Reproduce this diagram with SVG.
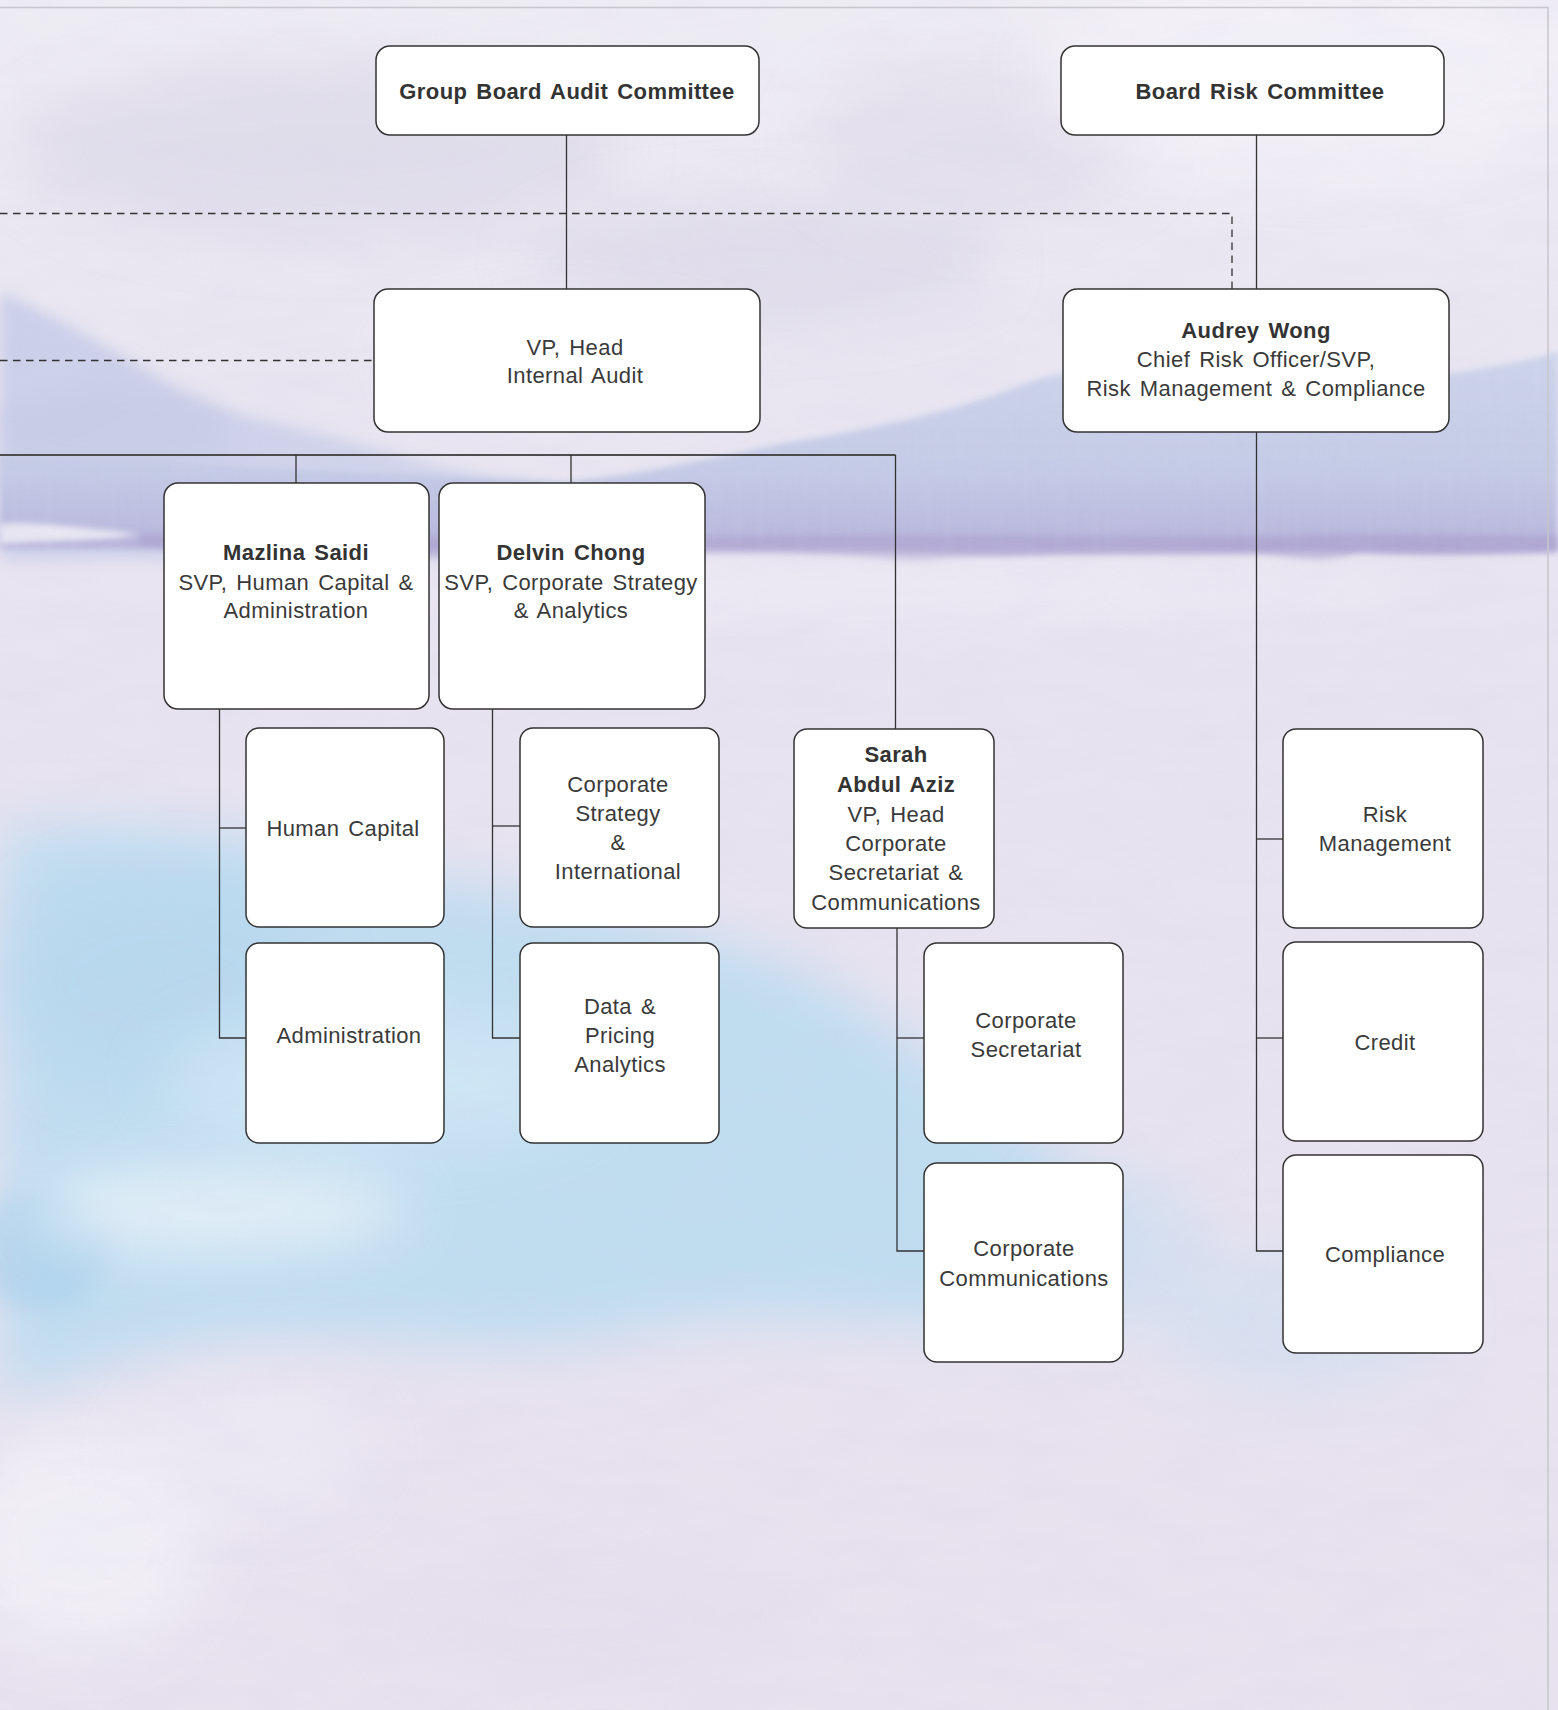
<svg xmlns="http://www.w3.org/2000/svg" width="1558" height="1710" viewBox="0 0 1558 1710">
<defs>
<style>
.box{fill:#ffffff;stroke:#333333;stroke-width:1.5}
.t{font-family:"Liberation Sans",Arial,Helvetica,sans-serif;font-size:22px;fill:#3a3a3a;text-anchor:middle;letter-spacing:0.4px;word-spacing:2.5px}
.b{font-weight:bold;fill:#333333}
.ln{stroke:#333333;stroke-width:1.3;fill:none}
.hl{stroke:#4d4d4d;stroke-width:1.8;fill:none}
.dash{stroke:#333333;stroke-width:1.3;fill:none;stroke-dasharray:7.5 5.5}
.frame{stroke:#c6c6cc;stroke-width:1.5;fill:none}
</style>
<linearGradient id="bgGrad" x1="0" y1="0" x2="0" y2="1">
<stop offset="0" stop-color="#eeecf3"/>
<stop offset="0.2" stop-color="#e9e6f1"/>
<stop offset="0.4" stop-color="#e8e3f0"/>
<stop offset="1" stop-color="#e8e2ef"/>
</linearGradient>
<linearGradient id="bandGrad" x1="0" y1="0" x2="0" y2="1">
<stop offset="0" stop-color="#cdd5eb"/>
<stop offset="0.6" stop-color="#c4cbe6"/>
<stop offset="0.88" stop-color="#bab9de"/>
<stop offset="1" stop-color="#b2aad6"/>
</linearGradient>
<linearGradient id="mtnGrad" x1="0" y1="0" x2="1" y2="1">
<stop offset="0" stop-color="#cbcfe8"/>
<stop offset="1" stop-color="#d3d6eb"/>
</linearGradient>
<filter id="blurL" filterUnits="userSpaceOnUse" x="-300" y="-300" width="2158" height="2310"><feGaussianBlur stdDeviation="28"/></filter>
<filter id="blurM" filterUnits="userSpaceOnUse" x="-300" y="-300" width="2158" height="2310"><feGaussianBlur stdDeviation="12"/></filter>
<filter id="blurS" filterUnits="userSpaceOnUse" x="-300" y="-300" width="2158" height="2310"><feGaussianBlur stdDeviation="3"/></filter>
<filter id="blurT" filterUnits="userSpaceOnUse" x="-300" y="-300" width="2158" height="2310"><feGaussianBlur stdDeviation="7"/></filter>
<filter id="tex" x="0" y="0" width="100%" height="100%">
<feTurbulence type="fractalNoise" baseFrequency="0.012 0.035" numOctaves="4" seed="7" result="n"/>
<feColorMatrix in="n" type="matrix" values="0 0 0 0 0.62  0 0 0 0 0.58  0 0 0 0 0.8  0.55 0 0 0 -0.2"/>
</filter>
<filter id="streak" x="0" y="0" width="100%" height="100%">
<feTurbulence type="fractalNoise" baseFrequency="0.09 0.006" numOctaves="3" seed="3" result="n"/>
<feColorMatrix in="n" type="matrix" values="0 0 0 0 0.6  0 0 0 0 0.62  0 0 0 0 0.82  0.8 0 0 0 -0.3"/>
</filter>
<clipPath id="bandClip">
<path d="M0,455 L560,482 C640,476 710,458 790,442 C880,428 960,410 1030,382 C1070,368 1120,370 1200,372 L1450,374 C1500,366 1530,360 1558,352 L1558,552 L0,550 Z"/>
</clipPath>
</defs>

<g id="background">
<rect x="0" y="0" width="1558" height="1710" fill="url(#bgGrad)"/>
<ellipse cx="320" cy="150" rx="300" ry="90" fill="#d8d4e6" opacity="0.55" filter="url(#blurL)"/>
<ellipse cx="760" cy="260" rx="230" ry="60" fill="#d6d2e5" opacity="0.5" filter="url(#blurL)"/>
<ellipse cx="980" cy="140" rx="170" ry="80" fill="#dcd8e8" opacity="0.5" filter="url(#blurL)"/>
<ellipse cx="1320" cy="70" rx="280" ry="110" fill="#f4f2f8" opacity="0.8" filter="url(#blurL)"/>
<ellipse cx="560" cy="360" rx="160" ry="50" fill="#f1eff6" opacity="0.7" filter="url(#blurL)"/>
<!-- left mountain -->
<path d="M0,292 C60,318 120,352 180,392 C240,418 300,428 360,444 C420,462 480,478 560,488 L560,560 L0,560 Z" fill="url(#mtnGrad)" filter="url(#blurT)"/>
<ellipse cx="110" cy="430" rx="120" ry="45" fill="#c3c7e2" opacity="0.45" filter="url(#blurM)"/>
<!-- right band -->
<path d="M0,455 L560,482 C640,476 710,458 790,442 C880,428 960,410 1030,382 C1070,368 1120,370 1200,372 L1450,374 C1500,366 1530,360 1558,352 L1558,552 C1400,556 1200,548 1000,556 C800,550 600,548 400,550 L0,548 Z" fill="url(#bandGrad)" filter="url(#blurS)"/>
<rect x="0" y="350" width="1558" height="210" filter="url(#streak)" clip-path="url(#bandClip)" opacity="0.45"/>
<!-- purple edge of band -->
<path d="M140,534 C300,530 500,540 700,537 C900,532 1100,540 1300,535 C1420,533 1500,536 1558,535 L1558,550 C1480,554 1420,558 1360,551 C1320,566 1300,558 1260,554 C1150,558 1050,551 950,558 C900,566 870,555 820,555 C700,551 600,558 480,555 C420,562 380,552 300,551 C220,554 180,548 140,546 Z" fill="#a89ecb" opacity="0.5" filter="url(#blurS)"/>
<path d="M0,524 C40,522 80,528 140,534 C110,541 60,540 0,544 Z" fill="#f2f0f7" opacity="0.85" filter="url(#blurS)"/>
<ellipse cx="900" cy="590" rx="500" ry="30" fill="#efebf5" opacity="0.6" filter="url(#blurM)"/>
<!-- blue wash lower left -->
<path d="M0,830 C150,815 300,845 420,875 C560,900 700,925 820,980 C900,1030 990,1100 1090,1180 C1140,1240 1110,1310 1000,1320 C860,1330 760,1300 620,1335 C480,1365 360,1320 200,1345 C120,1355 50,1385 0,1405 Z" fill="#c0ddf0" filter="url(#blurL)"/>
<ellipse cx="160" cy="980" rx="160" ry="110" fill="#b4d6ee" opacity="0.6" filter="url(#blurL)"/>
<ellipse cx="40" cy="1250" rx="70" ry="60" fill="#a9d0ec" opacity="0.6" filter="url(#blurM)"/>
<ellipse cx="380" cy="1080" rx="220" ry="70" fill="#d6ebf7" opacity="0.6" filter="url(#blurL)"/>
<ellipse cx="220" cy="1210" rx="190" ry="45" fill="#eef5fa" opacity="0.7" filter="url(#blurL)"/>
<ellipse cx="1300" cy="1320" rx="140" ry="70" fill="#c7def1" opacity="0.5" filter="url(#blurL)"/>
<ellipse cx="1120" cy="1250" rx="90" ry="80" fill="#c3ddf1" opacity="0.5" filter="url(#blurL)"/>
<!-- lower lavender and white patches -->
<ellipse cx="80" cy="1540" rx="130" ry="110" fill="#f3f1f7" opacity="0.8" filter="url(#blurL)"/>
<ellipse cx="250" cy="1450" rx="120" ry="70" fill="#eeebf5" opacity="0.7" filter="url(#blurL)"/>
<ellipse cx="600" cy="1620" rx="200" ry="60" fill="#e3dcec" opacity="0.5" filter="url(#blurL)"/>
<rect x="0" y="0" width="1558" height="1710" filter="url(#tex)" opacity="0.35"/>
<path class="frame" d="M0,7.5 L1548,7.5 L1548,1710"/>
</g>

<g id="connectors">
<path class="dash" d="M0,213.5 L1232,213.5 L1232,289"/>
<path class="dash" d="M0,360.5 L374,360.5"/>
<path class="ln" d="M566.5,135 L566.5,289"/>
<path class="ln" d="M1256.5,135 L1256.5,289"/>
<path class="hl" d="M0,455 L895.5,455"/>
<path class="ln" d="M895.5,455 L895.5,729"/>
<path class="ln" d="M296,455 L296,483"/>
<path class="ln" d="M571,455 L571,483"/>
<path class="ln" d="M219.5,709 L219.5,1038 L246,1038"/>
<path class="ln" d="M219.5,828 L246,828"/>
<path class="ln" d="M492.5,709 L492.5,1038 L520,1038"/>
<path class="ln" d="M492.5,826 L520,826"/>
<path class="ln" d="M897,928 L897,1251 L924,1251"/>
<path class="ln" d="M897,1038 L924,1038"/>
<path class="ln" d="M1256.5,432 L1256.5,1251 L1283,1251"/>
<path class="ln" d="M1256.5,839 L1283,839"/>
<path class="ln" d="M1256.5,1038 L1283,1038"/>
</g>

<g id="node-group-board-audit-committee">
<rect class="box" x="376" y="46" width="383" height="89" rx="14"/>
<text class="t b" x="567" y="99">Group Board Audit Committee</text>
</g>
<g id="node-board-risk-committee">
<rect class="box" x="1061" y="46" width="383" height="89" rx="14"/>
<text class="t b" x="1260" y="99">Board Risk Committee</text>
</g>
<g id="node-vp-head-internal-audit">
<rect class="box" x="374" y="289" width="386" height="143" rx="14"/>
<text class="t" x="575" y="355">VP, Head</text>
<text class="t" x="575" y="383">Internal Audit</text>
</g>
<g id="node-audrey-wong">
<rect class="box" x="1063" y="289" width="386" height="143" rx="14"/>
<text class="t b" x="1256" y="338">Audrey Wong</text>
<text class="t" x="1256" y="367">Chief Risk Officer/SVP,</text>
<text class="t" x="1256" y="396">Risk Management &amp; Compliance</text>
</g>
<g id="node-mazlina-saidi">
<rect class="box" x="164" y="483" width="265" height="226" rx="14"/>
<text class="t b" x="296" y="560">Mazlina Saidi</text>
<text class="t" x="296" y="590">SVP, Human Capital &amp;</text>
<text class="t" x="296" y="618">Administration</text>
</g>
<g id="node-delvin-chong">
<rect class="box" x="439" y="483" width="266" height="226" rx="14"/>
<text class="t b" x="571" y="560">Delvin Chong</text>
<text class="t" x="571" y="590">SVP, Corporate Strategy</text>
<text class="t" x="571" y="618">&amp; Analytics</text>
</g>
<g id="node-human-capital">
<rect class="box" x="246" y="728" width="198" height="199" rx="13"/>
<text class="t" x="343" y="836">Human Capital</text>
</g>
<g id="node-corporate-strategy-international">
<rect class="box" x="520" y="728" width="199" height="199" rx="13"/>
<text class="t" x="618" y="792">Corporate</text>
<text class="t" x="618" y="821">Strategy</text>
<text class="t" x="618" y="850">&amp;</text>
<text class="t" x="618" y="879">International</text>
</g>
<g id="node-sarah-abdul-aziz">
<rect class="box" x="794" y="729" width="200" height="199" rx="13"/>
<text class="t b" x="896" y="762">Sarah</text>
<text class="t b" x="896" y="792">Abdul Aziz</text>
<text class="t" x="896" y="822">VP, Head</text>
<text class="t" x="896" y="851">Corporate</text>
<text class="t" x="896" y="880">Secretariat &amp;</text>
<text class="t" x="896" y="910">Communications</text>
</g>
<g id="node-risk-management">
<rect class="box" x="1283" y="729" width="200" height="199" rx="13"/>
<text class="t" x="1385" y="822">Risk</text>
<text class="t" x="1385" y="851">Management</text>
</g>
<g id="node-administration">
<rect class="box" x="246" y="943" width="198" height="200" rx="13"/>
<text class="t" x="349" y="1043">Administration</text>
</g>
<g id="node-data-pricing-analytics">
<rect class="box" x="520" y="943" width="199" height="200" rx="13"/>
<text class="t" x="620" y="1014">Data &amp;</text>
<text class="t" x="620" y="1043">Pricing</text>
<text class="t" x="620" y="1072">Analytics</text>
</g>
<g id="node-corporate-secretariat">
<rect class="box" x="924" y="943" width="199" height="200" rx="13"/>
<text class="t" x="1026" y="1028">Corporate</text>
<text class="t" x="1026" y="1057">Secretariat</text>
</g>
<g id="node-credit">
<rect class="box" x="1283" y="942" width="200" height="199" rx="13"/>
<text class="t" x="1385" y="1050">Credit</text>
</g>
<g id="node-corporate-communications">
<rect class="box" x="924" y="1163" width="199" height="199" rx="13"/>
<text class="t" x="1024" y="1256">Corporate</text>
<text class="t" x="1024" y="1286">Communications</text>
</g>
<g id="node-compliance">
<rect class="box" x="1283" y="1155" width="200" height="198" rx="13"/>
<text class="t" x="1385" y="1262">Compliance</text>
</g>
</svg>
